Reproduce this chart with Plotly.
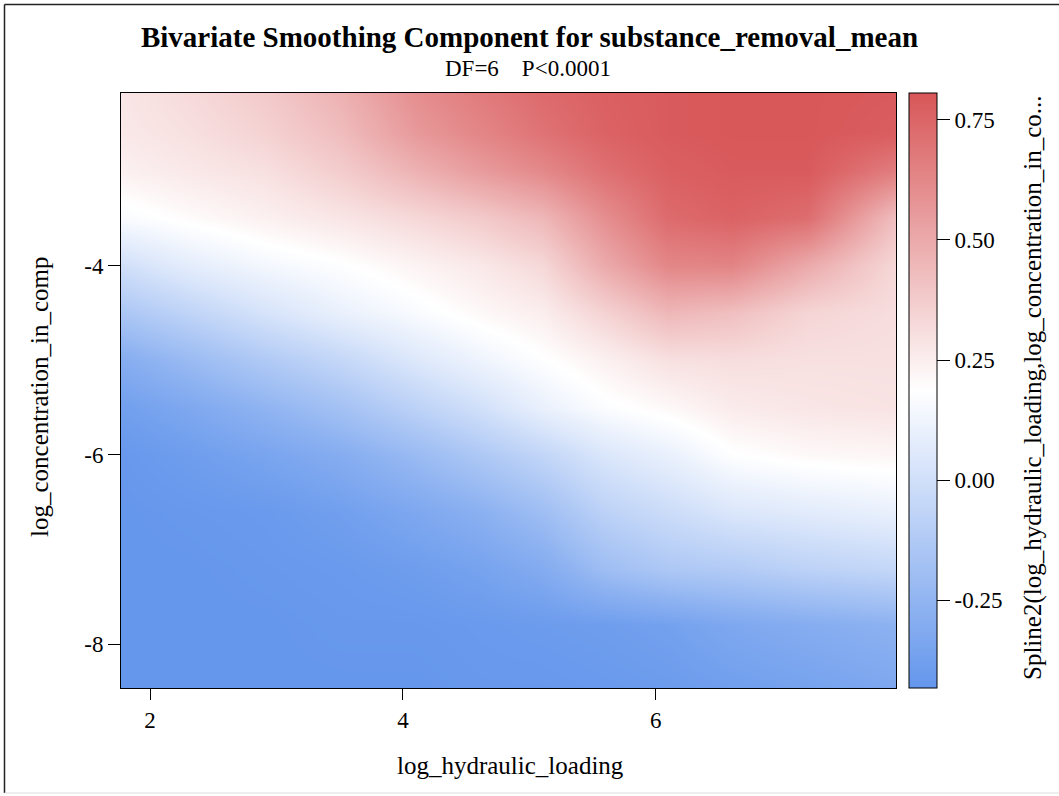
import plotly.graph_objects as go

# ---- data ----
x_hydraulic = [1.77, 2.3, 2.9, 3.5, 4.1, 4.6, 5.1, 5.6, 6.1, 6.6, 7.2, 7.9]
y_conc = [-8.46, -7.8, -7.2, -6.6, -6.0, -5.5, -5.0, -4.5, -4.0, -3.5, -3.0, -2.6, -2.18]

row_m846 = [-0.43, -0.43, -0.43, -0.43, -0.43, -0.42, -0.42, -0.41, -0.40, -0.38, -0.36, -0.33]
row_m780 = [-0.43, -0.43, -0.43, -0.42, -0.42, -0.41, -0.40, -0.39, -0.37, -0.33, -0.30, -0.27]
row_m720 = [-0.43, -0.43, -0.42, -0.41, -0.39, -0.36, -0.31, -0.20, -0.14, -0.12, -0.08, -0.05]
row_m660 = [-0.43, -0.42, -0.41, -0.38, -0.33, -0.28, -0.20, -0.08, -0.02, 0.04, 0.07, 0.10]
row_m600 = [-0.42, -0.39, -0.35, -0.30, -0.22, -0.14, -0.06, 0.04, 0.10, 0.18, 0.21, 0.22]
row_m550 = [-0.38, -0.33, -0.26, -0.18, -0.08, 0.00, 0.10, 0.17, 0.21, 0.26, 0.28, 0.29]
row_m500 = [-0.30, -0.22, -0.13, -0.05, 0.05, 0.12, 0.18, 0.24, 0.30, 0.31, 0.30, 0.30]
row_m450 = [-0.15, -0.07, 0.02, 0.10, 0.16, 0.21, 0.25, 0.35, 0.45, 0.42, 0.34, 0.31]
row_m400 = [0.00, 0.08, 0.14, 0.18, 0.23, 0.27, 0.33, 0.50, 0.63, 0.64, 0.50, 0.33]
row_m350 = [0.16, 0.20, 0.24, 0.28, 0.33, 0.38, 0.45, 0.60, 0.73, 0.76, 0.72, 0.42]
row_m300 = [0.24, 0.27, 0.30, 0.37, 0.47, 0.55, 0.62, 0.71, 0.77, 0.79, 0.79, 0.66]
row_m260 = [0.27, 0.30, 0.35, 0.43, 0.56, 0.63, 0.70, 0.76, 0.79, 0.80, 0.80, 0.78]
row_m218 = [0.28, 0.32, 0.38, 0.47, 0.60, 0.67, 0.73, 0.77, 0.79, 0.80, 0.80, 0.79]

z_spline = [row_m846, row_m780, row_m720, row_m660, row_m600, row_m550, row_m500,
            row_m450, row_m400, row_m350, row_m300, row_m260, row_m218]

x_ticks = [2, 4, 6]
y_ticks = [-8, -6, -4]
cbar_ticks = [-0.25, 0.0, 0.25, 0.50, 0.75]
cbar_labels = ["-0.25", "0.00", "0.25", "0.50", "0.75"]
z_min, z_max = -0.433, 0.806

title_text = "Bivariate Smoothing Component for substance_removal_mean"
subtitle_text = "DF=6    P<0.0001"
x_title = "log_hydraulic_loading"
y_title = "log_concentration_in_comp"
cbar_title = "Spline2(log_hydraulic_loading,log_concentration_in_co..."

FONT = "Liberation Serif, Times New Roman, serif"

fig = go.Figure(go.Heatmap(
    x=x_hydraulic, y=y_conc, z=z_spline,
    zsmooth="best", zmin=z_min, zmax=z_max,
    colorscale=[[0.0, "rgb(100,150,236)"], [0.5, "rgb(255,255,255)"], [1.0, "rgb(216,86,88)"]],
    colorbar=dict(
        x=(909 - 121) / 775, xanchor="left", xpad=0,
        y=0.5, yanchor="middle", len=1, lenmode="fraction", ypad=0,
        thickness=28, outlinewidth=1, outlinecolor="black",
        tickmode="array", tickvals=cbar_ticks, ticktext=cbar_labels,
        ticks="outside", ticklen=13, tickwidth=1, tickcolor="black",
        tickfont=dict(family=FONT, size=23, color="black"),
    ),
    hoverinfo="skip",
))

fig.update_layout(
    width=1059, height=796,
    margin=dict(l=121, r=163, t=93, b=108),
    paper_bgcolor="white", plot_bgcolor="white",
    font=dict(family=FONT, color="black"),
    title=dict(text="<b>" + title_text + "</b>", x=0.5, xref="container", xanchor="center",
               y=1 - 37 / 796, yref="container", yanchor="middle",
               font=dict(family=FONT, size=29, color="black")),
    showlegend=False,
)

fig.update_xaxes(
    range=[1.77, 7.9], tickmode="array", tickvals=x_ticks, ticktext=[str(v) for v in x_ticks],
    ticks="outside", ticklen=11, tickwidth=1, tickcolor="black",
    tickfont=dict(family=FONT, size=23, color="black"),
    showline=True, linecolor="black", linewidth=1, mirror=True,
    showgrid=False, zeroline=False,
)
fig.update_yaxes(
    range=[-8.46, -2.18], tickmode="array", tickvals=y_ticks, ticktext=[str(v) for v in y_ticks],
    ticks="outside", ticklen=12, tickwidth=1, tickcolor="black",
    tickfont=dict(family=FONT, size=23, color="black"),
    showline=True, linecolor="black", linewidth=1, mirror=True,
    showgrid=False, zeroline=False,
)


def px_x(p):
    return (p - 121) / 775


def px_y(p):
    return (688 - p) / 595


# subtitle, axis titles and colour-bar title
fig.add_annotation(text=subtitle_text, xref="paper", yref="paper",
                   x=px_x(528), y=px_y(69), xanchor="center", yanchor="middle",
                   showarrow=False, font=dict(family=FONT, size=23, color="black"))
fig.add_annotation(text=x_title, xref="paper", yref="paper",
                   x=px_x(510), y=px_y(765), xanchor="center", yanchor="middle",
                   showarrow=False, font=dict(family=FONT, size=25, color="black"))
fig.add_annotation(text=y_title, xref="paper", yref="paper", textangle=-90,
                   x=px_x(39), y=px_y(397), xanchor="center", yanchor="middle",
                   showarrow=False, font=dict(family=FONT, size=25, color="black"))
fig.add_annotation(text=cbar_title, xref="paper", yref="paper", textangle=-90,
                   x=px_x(1033), y=px_y(388), xanchor="center", yanchor="middle",
                   showarrow=False, font=dict(family=FONT, size=25, color="black"))

# outer frame of the graphic (left/top dark, bottom light)
fig.add_shape(type="line", xref="paper", yref="paper", x0=px_x(4.5), x1=px_x(1070),
              y0=px_y(4.5), y1=px_y(4.5), line=dict(color="#222", width=1.5))
fig.add_shape(type="line", xref="paper", yref="paper", x0=px_x(4.5), x1=px_x(4.5),
              y0=px_y(4.5), y1=px_y(793), line=dict(color="#222", width=1.5))
fig.add_shape(type="line", xref="paper", yref="paper", x0=px_x(4.5), x1=px_x(1070),
              y0=px_y(793), y1=px_y(793), line=dict(color="#ddd", width=1))

fig.write_html("out.html")
